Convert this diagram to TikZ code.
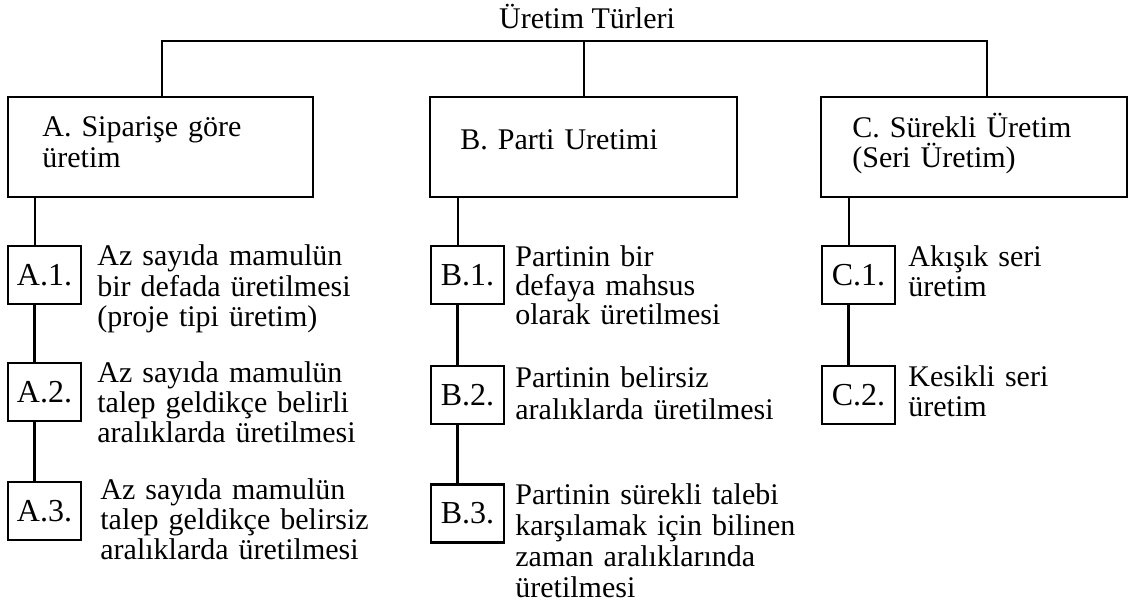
\documentclass[tikz,border=0pt]{standalone}
\usepackage{fontspec}
\setmainfont{Liberation Serif}
\begin{document}
\begin{tikzpicture}[x=0.5pt,y=-0.5pt,
  mainbox/.style={draw, line width=0.9pt, minimum height=50pt, inner sep=0pt},
  subbox/.style={draw, line width=1.3pt, minimum width=36.5pt, minimum height=29pt, inner sep=0pt,
    font=\fontsize{16pt}{16pt}\selectfont},
  sidetext/.style={anchor=base west, inner sep=0pt, text width=160pt, align=left,
    font=\fontsize{15pt}{#1}\selectfont},
  sidetext/.default=15pt,
  link/.style={line width=1.1pt},
  mainlink/.style={line width=1pt}]
\useasboundingbox (0,0) rectangle (1130,608);

% title
\node[anchor=base, inner sep=0pt, font=\fontsize{15pt}{15pt}\selectfont] (title) at (587,29) {Üretim Türleri};

% main boxes
\node[mainbox, minimum width=152.5pt] (boxA) at (160.5,147) {};
\node[mainbox, minimum width=153.5pt] (boxB) at (583.5,147) {};
\node[mainbox, minimum width=153pt] (boxC) at (974,147) {};

\node[sidetext=15.5pt] (txtA) at (42,137) {A. Siparişe göre\\üretim};
\node[sidetext] (txtB) at (460,150) {B. Parti Uretimi};
\node[sidetext=15pt] (txtC) at (852,138) {C. Sürekli Üretim\\(Seri Üretim)};

% top connectors
\coordinate (hr) at (987,41);
\draw[mainlink] (boxA.north -| 162,0) |- (hr) -- (hr |- boxC.north);
\draw[mainlink] (boxB.north) -- (boxB.north |- hr);

% sub boxes
\node[subbox] (A1) at (44.5,275) {A.1.};
\node[subbox] (A2) at (44.5,392) {A.2.};
\node[subbox] (A3) at (44.5,511) {A.3.};
\node[subbox] (B1) at (467.5,275) {B.1.};
\node[subbox] (B2) at (467.5,395) {B.2.};
\node[subbox] (B3) at (467.5,513.5) {B.3.};
\node[subbox] (C1) at (858.5,275) {C.1.};
\node[subbox] (C2) at (858.5,395) {C.2.};

% vertical connectors
\foreach \u/\v in {A1/A2, A2/A3, B1/B2, B2/B3, C1/C2}{
  \draw[link] ([xshift=-5pt]\u.south) -- ([xshift=-5pt]\v.north);
}
\draw[mainlink] ([xshift=-5pt]A1.north |- boxA.south) -- ([xshift=-5pt]A1.north);
\draw[mainlink] ([xshift=-5pt]B1.north |- boxB.south) -- ([xshift=-5pt]B1.north);
\draw[mainlink] ([xshift=-5pt]C1.north |- boxC.south) -- ([xshift=-5pt]C1.north);

% side texts
\node[sidetext=15.25pt] (tA1) at (97,266) {Az sayıda mamulün\\bir defada üretilmesi\\(proje tipi üretim)};
\node[sidetext=15pt] (tA2) at (97,383) {Az sayıda mamulün\\talep geldikçe belirli\\aralıklarda üretilmesi};
\node[sidetext=15pt] (tA3) at (100,500) {Az sayıda mamulün\\talep geldikçe belirsiz\\aralıklarda üretilmesi};
\node[sidetext=14.5pt] (tB1) at (515,267) {Partinin bir\\defaya mahsus\\olarak üretilmesi};
\node[sidetext=16pt] (tB2) at (515,388) {Partinin belirsiz\\aralıklarda üretilmesi};
\node[sidetext=15.5pt] (tB3) at (515,505) {Partinin sürekli talebi\\karşılamak için bilinen\\zaman aralıklarında\\üretilmesi};
\node[sidetext=15pt] (tC1) at (908,267) {Akışık seri\\üretim};
\node[sidetext=15pt] (tC2) at (908,387) {Kesikli seri\\üretim};
\end{tikzpicture}
\end{document}
